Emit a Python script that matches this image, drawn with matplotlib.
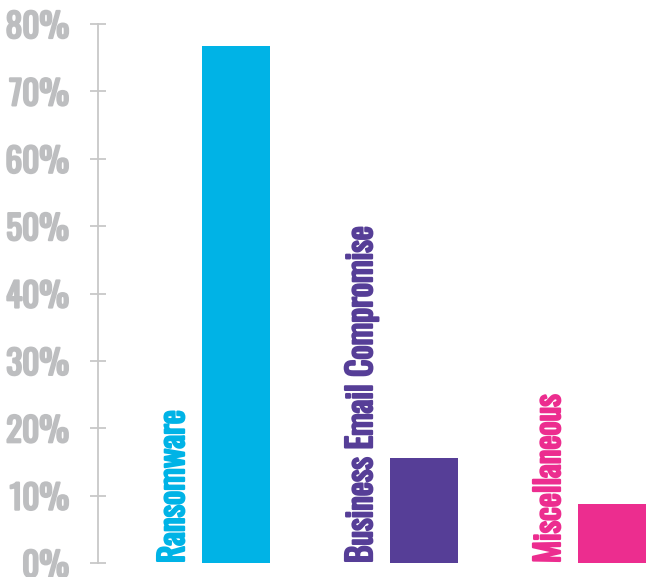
import matplotlib
matplotlib.use("Agg")
import matplotlib.pyplot as plt
import matplotlib.patheffects as pe
from matplotlib.ticker import FuncFormatter

categories = ["Ransomware", "Business Email Compromise", "Miscellaneous"]
values = [76.7, 15.6, 8.8]
colors = ["#00b3e6", "#563e97", "#ec2d8f"]
yticks = [0, 10, 20, 30, 40, 50, 60, 70, 80]

W, H = 652, 577
fig = plt.figure(figsize=(W / 100, H / 100), dpi=100)
left_px, right_px, top_px, bottom_px = 97.5, 652, 24, 563
ax = fig.add_axes([left_px / W, (H - bottom_px) / H,
                   (right_px - left_px) / W, (bottom_px - top_px) / H])

font = ["Oswald", "DejaVu Sans"]
grey = "#bdbec0"

x = list(range(len(categories)))
ax.bar(x, values, width=0.362, color=colors, zorder=2)

ax.set_xlim(-0.737, 2.213)
ax.set_ylim(0, 80)
ax.set_yticks(yticks)
ax.yaxis.set_major_formatter(FuncFormatter(lambda v, p: f"{int(v)}%"))
for s in ["top", "right", "bottom"]:
    ax.spines[s].set_visible(False)
ax.spines["left"].set_color("#c8c8c8")
ax.spines["left"].set_linewidth(1.3)
ax.set_xticks([])
ax.tick_params(axis="y", direction="inout", length=11, width=1.3,
               color="#c8c8c8", labelcolor=grey, pad=15)
for lab in ax.get_yticklabels():
    lab.set_fontfamily(font)
    lab.set_fontweight("bold")
    lab.set_fontsize(24)
    lab.set_path_effects([pe.withStroke(linewidth=1.6, foreground=grey)])

for xi, cat, col in zip(x, categories, colors):
    ax.text(xi - 0.335, 0, cat, rotation=90, ha="center", va="bottom",
            color=col, fontsize=24, fontweight="bold", family=font,
            path_effects=[pe.withStroke(linewidth=1.6, foreground=col)])

fig.savefig("out.png", dpi=100)
